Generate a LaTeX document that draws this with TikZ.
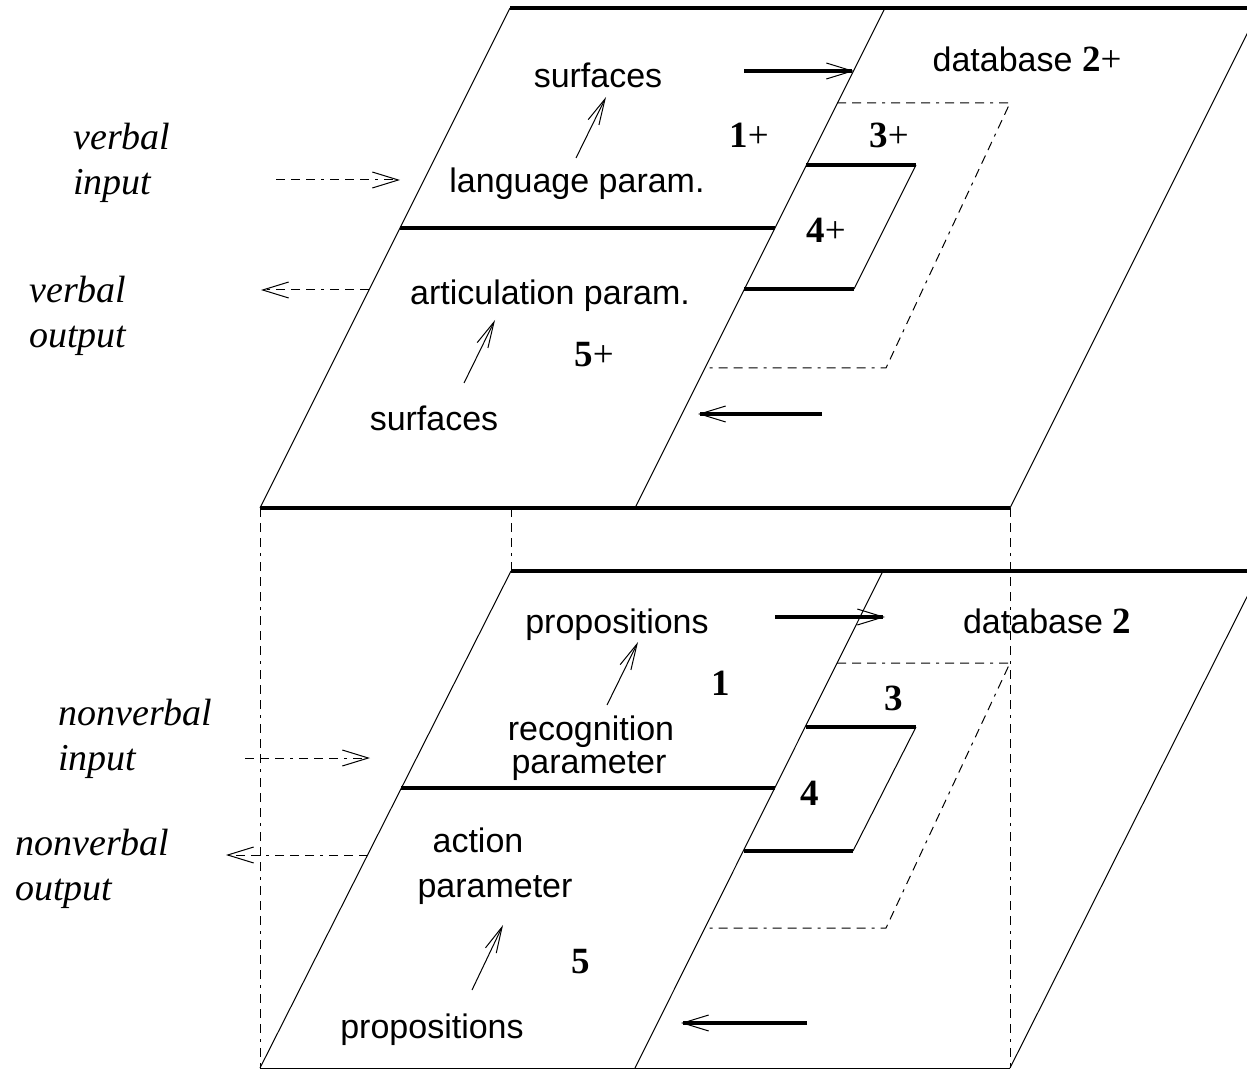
\documentclass[tikz,border=0pt]{standalone}
\usepackage{fontspec}
\setmainfont{Liberation Serif}
\newfontfamily\labelsans{Liberation Sans}
\usetikzlibrary{arrows.meta}

\begin{document}
\begin{tikzpicture}[x=0.5pt,y=-0.5pt,
  thinedge/.style={line width=0.5pt},
  thickedge/.style={line width=1.7pt},
  guide/.style={line width=0.5pt,dash pattern=on 4.5pt off 3pt on 4.5pt off 3pt on 4.5pt off 3pt on 1.5pt off 3pt},
  flow/.style={thickedge,-{Straight Barb[length=13pt,width=8pt,line width=0.5pt]}},
  lift/.style={thinedge,-{Straight Barb[length=13pt,width=6pt,line width=0.5pt]}},
  io/.style={guide,-{Straight Barb[length=13pt,width=8pt,line width=0.5pt]}},
  sans/.style={font=\labelsans\fontsize{17}{20}\selectfont,inner sep=0pt,anchor=base},
  num/.style={font=\fontsize{18.5}{22}\selectfont,inner sep=0pt,anchor=base},
  side/.style={font=\itshape\fontsize{19}{22}\selectfont,inner sep=0pt,anchor=base west},
]
\useasboundingbox (0,0) rectangle (1247,1069);
\clip (0,0) rectangle (1247,1069);

% ---------- upper layer (verbal) ----------
\coordinate (tTL) at (510,8);   \coordinate (tTR) at (1260,8);
\coordinate (tBL) at (260,508); \coordinate (tBR) at (1010,508);
\coordinate (tMT) at (885,8);   \coordinate (tMB) at (635,508);
\coordinate (tSL) at (400,228); \coordinate (tSR) at (775,228);
\coordinate (tK1) at (806,165); \coordinate (tK2) at (916,165);
\coordinate (tK3) at (854,289); \coordinate (tK4) at (744,289);
\coordinate (tD1) at (837,103); \coordinate (tD2) at (1010,103);
\coordinate (tD3) at (886,368); \coordinate (tD4) at (705,368);

\draw[thickedge] (tTL) -- (tTR);
\draw[thickedge] (tBL) -- (tBR);
\draw[thinedge] (tTL) -- (tBL);
\draw[thinedge] (tMT) -- (tMB);
\draw[thinedge] (tTR) -- (tBR);
\draw[thickedge] (tSL) -- (tSR);
\draw[thickedge] (tK1) -- (tK2);
\draw[thinedge] (tK2) -- (tK3);
\draw[thickedge] (tK3) -- (tK4);
\draw[guide] (tD1) -- (tD2) -- (tD3) -- (tD4);

% ---------- lower layer (nonverbal) ----------
\coordinate (bTL) at (511,571);  \coordinate (bTR) at (1260,571);
\coordinate (bBL) at (260,1068); \coordinate (bBR) at (1010,1068);
\coordinate (bMT) at (883,571);  \coordinate (bMB) at (635,1068);
\coordinate (bSL) at (401,788);  \coordinate (bSR) at (775,788);
\coordinate (bK1) at (806,727);  \coordinate (bK2) at (916,727);
\coordinate (bK3) at (853,851);  \coordinate (bK4) at (744,851);
\coordinate (bD1) at (837,663);  \coordinate (bD2) at (1010,663);
\coordinate (bD3) at (886,928);  \coordinate (bD4) at (704,928);

\draw[thickedge] (bTL) -- (bTR);
\draw[thinedge] (bBL) -- (bBR);
\draw[thinedge] (bTL) -- (bBL);
\draw[thinedge] (bMT) -- (bMB);
\draw[thinedge] (bTR) -- (bBR);
\draw[thickedge] (bSL) -- (bSR);
\draw[thickedge] (bK1) -- (bK2);
\draw[thinedge] (bK2) -- (bK3);
\draw[thickedge] (bK3) -- (bK4);
\draw[guide] (bD1) -- (bD2) -- (bD3) -- (bD4);

% ---------- vertical links between the layers ----------
\coordinate (tBm) at (511,508);
\draw[guide] (tBL) -- (bBL);
\draw[guide] (tBm) -- (bTL);
\draw[guide] (tBR) -- (bBR);

% ---------- labels, upper layer ----------
\node[sans] (tSurfA) at (598,88) {surfaces};
\node[sans] (tDb) at (1027,72) {database {\rmfamily\fontsize{18.5}{22}\selectfont\textbf{2}+}};
\node[sans] (tLang) at (577,193) {language param.};
\node[num] (tN1) at (749,148) {\textbf{1}+};
\node[num] (tN3) at (889,148) {\textbf{3}+};
\node[num] (tN4) at (826,243) {\textbf{4}+};
\node[sans] (tArt) at (550,305) {articulation param.};
\node[num] (tN5) at (594,367) {\textbf{5}+};
\node[sans] (tSurfB) at (434,430) {surfaces};
\node[side] (vin1) at (73,150) {verbal};
\node[side] (vin2) at (73,195) {input};
\node[side] (vout1) at (29,303) {verbal};
\node[side] (vout2) at (29,348) {output};

% ---------- labels, lower layer ----------
\node[sans] (bPropA) at (617,633) {propositions};
\node[sans] (bDb) at (1047,633) {database {\rmfamily\fontsize{18.5}{22}\selectfont\textbf{2}}};
\node[num] (bN1) at (721,695) {\textbf{1}};
\node[num] (bN3) at (894,710) {\textbf{3}};
\node[sans] (bRec1) at (591,740) {recognition};
\node[sans] (bRec2) at (589,773) {parameter};
\node[num] (bN4) at (810,805) {\textbf{4}};
\node[sans] (bAct1) at (478,852) {action};
\node[sans] (bAct2) at (495,897) {parameter};
\node[num] (bN5) at (581,973) {\textbf{5}};
\node[sans] (bPropB) at (432,1038) {propositions};
\node[side] (nin1) at (58,725) {nonverbal};
\node[side] (nin2) at (58,770) {input};
\node[side] (nout1) at (15,855) {nonverbal};
\node[side] (nout2) at (15,900) {output};

% ---------- arrows, upper layer ----------
\coordinate (tF1s) at (744,71);  \coordinate (tF1e) at (854,71);
\coordinate (tF2s) at (822,414); \coordinate (tF2e) at (698,414);
\coordinate (tU1s) at (576,158); \coordinate (tU1e) at (606,97);
\coordinate (tU2s) at (464,383); \coordinate (tU2e) at (495,320);
\coordinate (tIns) at (276,180); \coordinate (tIne) at (400,180);
\coordinate (tOuts) at (369,290); \coordinate (tOute) at (261,290);
\draw[flow] (tF1s) -- (tF1e);
\draw[flow] (tF2s) -- (tF2e);
\draw[lift] (tU1s) -- (tU1e);
\draw[lift] (tU2s) -- (tU2e);
\draw[io] (tIns) -- (tIne);
\draw[io] (tOuts) -- (tOute);

% ---------- arrows, lower layer ----------
\coordinate (bF1s) at (775,617);  \coordinate (bF1e) at (885,617);
\coordinate (bF2s) at (807,1023); \coordinate (bF2e) at (681,1023);
\coordinate (bU1s) at (607,705);  \coordinate (bU1e) at (638,642);
\coordinate (bU2s) at (472,990);  \coordinate (bU2e) at (503,925);
\coordinate (bIns) at (245,758);  \coordinate (bIne) at (370,758);
\coordinate (bOuts) at (368,855); \coordinate (bOute) at (226,855);
\draw[flow] (bF1s) -- (bF1e);
\draw[flow] (bF2s) -- (bF2e);
\draw[lift] (bU1s) -- (bU1e);
\draw[lift] (bU2s) -- (bU2e);
\draw[io] (bIns) -- (bIne);
\draw[io] (bOuts) -- (bOute);
\end{tikzpicture}
\end{document}
